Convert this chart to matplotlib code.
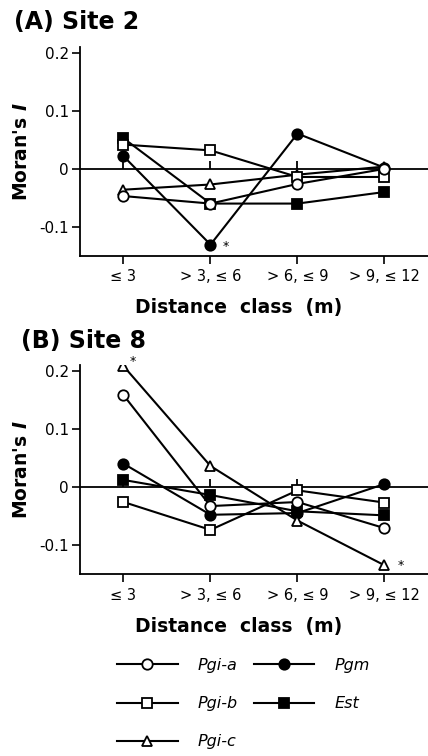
import matplotlib.pyplot as plt


# ======================================================
# Data
# ======================================================

distance_classes = ["≤ 3", "> 3, ≤ 6", "> 6, ≤ 9", "> 9, ≤ 12"]
x_pos = [0, 1, 2, 3]

y_ticks = [-0.1, 0.0, 0.1, 0.2]
y_tick_labels = ["-0.1", "0", "0.1", "0.2"]

# Site 2
site2_pgi_a = [-0.047, -0.060, -0.026, 0.000]
site2_pgi_b = [0.042, 0.032, -0.014, -0.014]
site2_pgi_c = [-0.036, -0.027, -0.010, 0.004]
site2_pgm = [0.022, -0.131, 0.061, 0.002]
site2_est = [0.053, -0.060, -0.060, -0.040]

# Site 8
site8_pgi_a = [0.158, -0.033, -0.026, -0.071]
site8_pgi_b = [-0.026, -0.074, -0.006, -0.027]
site8_pgi_c = [0.208, 0.036, -0.058, -0.135]
site8_pgm = [0.040, -0.048, -0.045, 0.005]
site8_est = [0.012, -0.014, -0.042, -0.049]

# significant values: (series, class index, offset in points)
site2_signif = [(site2_pgm, 1, (11, -1))]
site8_signif = [(site8_pgi_c, 0, (7, 3)), (site8_pgi_c, 3, (12, 0))]


# ======================================================
# Styles
# ======================================================

# open markers sit on top of the filled ones
series_style = {
    "Pgi-a": dict(marker="o", mfc="white", ms=7.5, zorder=7),
    "Pgi-b": dict(marker="s", mfc="white", ms=7, zorder=6),
    "Pgi-c": dict(marker="^", mfc="white", ms=7, zorder=5),
    "Pgm": dict(marker="o", mfc="black", ms=7.5, zorder=3),
    "Est": dict(marker="s", mfc="black", ms=7, zorder=4),
}

fig = plt.figure(figsize=(4.28, 7.56), dpi=100)


def draw_panel(ax, series, signif, title, title_x, title_y):
    ax.axhline(0, color="black", lw=1.3, zorder=1)
    ax.vlines(x_pos[:3], 0, 0.014, color="black", lw=1.3, zorder=1)

    handles = []
    for name, values in series.items():
        (line,) = ax.plot(
            x_pos,
            values,
            color="black",
            lw=1.5,
            mec="black",
            mew=1.3,
            label=name,
            **series_style[name],
        )
        handles.append(line)

    for values, idx, offset in signif:
        ax.annotate(
            "*",
            (x_pos[idx], values[idx]),
            xytext=offset,
            textcoords="offset points",
            ha="center",
            va="center",
            fontsize=9,
        )

    ax.set_xlim(-0.5, 3.5)
    ax.set_ylim(-0.15, 0.21)
    ax.set_xticks(x_pos)
    ax.set_xticklabels(distance_classes, fontsize=10.5)
    ax.set_yticks(y_ticks)
    ax.set_yticklabels(y_tick_labels, fontsize=11)

    ax.spines["top"].set_visible(False)
    ax.spines["right"].set_visible(False)
    ax.spines["left"].set_linewidth(1.3)
    ax.spines["bottom"].set_linewidth(1.3)
    ax.tick_params(axis="both", direction="out", length=5.5, width=1.2)
    ax.tick_params(axis="x", pad=4.5)
    ax.tick_params(axis="y", pad=2.5)

    ax.set_xlabel("Distance  class  (m)", fontsize=13.5, fontweight="bold")
    ax.set_ylabel(r"Moran's $\mathbfit{I}$", fontsize=13.5, fontweight="bold")
    ax.xaxis.set_label_coords(0.457, -0.205)
    ax.yaxis.set_label_coords(-0.14, 0.5)

    fig.text(title_x, title_y, title, fontsize=17, fontweight="bold",
             ha="left", va="top")
    return handles


# ======================================================
# Panel A: Site 2
# ======================================================

ax_a = fig.add_axes([0.1869, 0.6619, 0.8131, 0.2753])
draw_panel(
    ax_a,
    {"Pgi-a": site2_pgi_a, "Pgi-b": site2_pgi_b, "Pgi-c": site2_pgi_c,
     "Pgm": site2_pgm, "Est": site2_est},
    site2_signif,
    "(A) Site 2",
    0.033,
    1 - 10 / 756,
)


# ======================================================
# Panel B: Site 8
# ======================================================

ax_b = fig.add_axes([0.1869, 0.2407, 0.8131, 0.2766])
handles = draw_panel(
    ax_b,
    {"Pgi-a": site8_pgi_a, "Pgi-b": site8_pgi_b, "Pgi-c": site8_pgi_c,
     "Pgm": site8_pgm, "Est": site8_est},
    site8_signif,
    "(B) Site 8",
    0.049,
    1 - 329 / 756,
)


# ======================================================
# Legend
# ======================================================

fig.legend(
    handles=handles,
    loc="upper left",
    bbox_to_anchor=(117 / 428, 1 - 658 / 756),
    ncol=2,
    frameon=False,
    numpoints=1,
    prop={"size": 11.5, "style": "italic"},
    handlelength=3.8,
    handletextpad=1.25,
    columnspacing=1.0,
    labelspacing=1.45,
    borderpad=0,
    borderaxespad=0,
)

fig.savefig("out.png", dpi=100)
